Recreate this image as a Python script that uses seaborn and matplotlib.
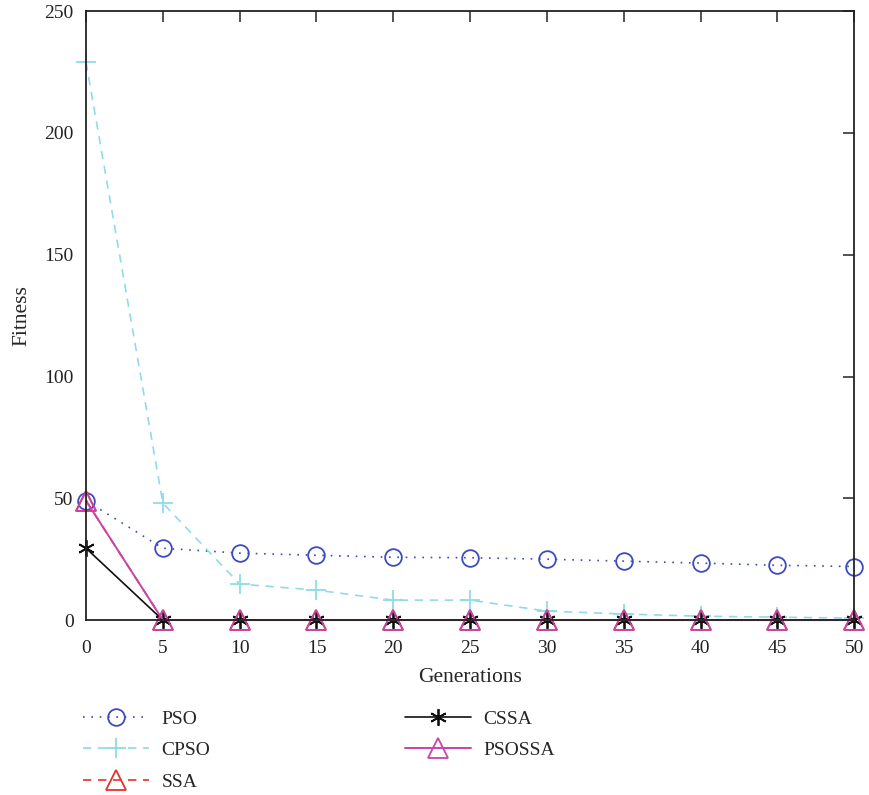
import matplotlib
matplotlib.use("Agg")
import matplotlib.pyplot as plt
import seaborn as sns
import pandas as pd

generations = [0, 5, 10, 15, 20, 25, 30, 35, 40, 45, 50]
pso = [49, 29.5, 27.5, 26.6, 25.8, 25.6, 25.0, 24.2, 23.4, 22.5, 22.0]
cpso = [229, 48, 14.8, 12.3, 8.2, 8.2, 3.7, 2.5, 1.6, 1.2, 0.8]
ssa = [49, 0, 0, 0, 0, 0, 0, 0, 0, 0, 0]
cssa = [29.5, 0, 0, 0, 0, 0, 0, 0, 0, 0, 0]
psossa = [49, 0, 0, 0, 0, 0, 0, 0, 0, 0, 0]
x_ticks = [0, 5, 10, 15, 20, 25, 30, 35, 40, 45, 50]
y_ticks = [0, 50, 100, 150, 200, 250]

sns.set_theme(style="white")
plt.rcParams['font.family'] = ['Liberation Serif', 'DejaVu Serif']

fig = plt.figure(figsize=(8.69, 7.95), dpi=100)
ax = fig.add_axes([0.099, 0.22, 0.884, 0.766])

series = [
    ("PSO", pso, dict(color="#3E4BBE", linestyle=(0, (1, 4)), marker="o", markersize=12, lw=1.2)),
    ("CPSO", cpso, dict(color="#8FDCE8", linestyle=(0, (5, 4)), marker="+", markersize=14, lw=1.2)),
    ("SSA", ssa, dict(color="#E8302A", linestyle=(0, (5, 4)), marker="^", markersize=14, lw=1.2)),
    ("CSSA", cssa, dict(color="#111111", linestyle="-", marker=(6, 2, 0), markersize=12, lw=1.2)),
    ("PSOSSA", psossa, dict(color="#C844A6", linestyle="-", marker="^", markersize=14, lw=1.4)),
]

for name, vals, st in series:
    df = pd.DataFrame({"Generations": generations, "Fitness": vals})
    sns.lineplot(data=df, x="Generations", y="Fitness", ax=ax, label=name,
                 color=st["color"], linestyle=st["linestyle"], marker=st["marker"],
                 markersize=st["markersize"], linewidth=st["lw"],
                 markerfacecolor="none", markeredgecolor=st["color"],
                 markeredgewidth=1.3, clip_on=False)

ax.set_xlim(0, 50)
ax.set_ylim(0, 250)
ax.set_xticks(x_ticks)
ax.set_yticks(y_ticks)
for s in ax.spines.values():
    s.set_visible(True)
    s.set_color("#222222")
    s.set_linewidth(1.3)
ax.tick_params(direction="in", length=8, width=1.1, top=True, right=True,
               labelsize=14, colors="#222222", pad=9)
ax.tick_params(axis="x", pad=14)
ax.set_xlabel("Generations", fontsize=15.5, labelpad=8)
ax.set_ylabel("Fitness", fontsize=15.5, labelpad=9)

handles, labels = ax.get_legend_handles_labels()
leg = fig.legend(handles, labels,
                 loc="upper left", bbox_to_anchor=(83 / 869, 1 - 710 / 795),
                 ncol=2, frameon=False, fontsize=14, handlelength=3.4,
                 borderpad=0, borderaxespad=0,
                 columnspacing=10.0, labelspacing=0.72, handletextpad=0.65)
ax.get_legend().remove()

fig.savefig("out.png", dpi=100)
